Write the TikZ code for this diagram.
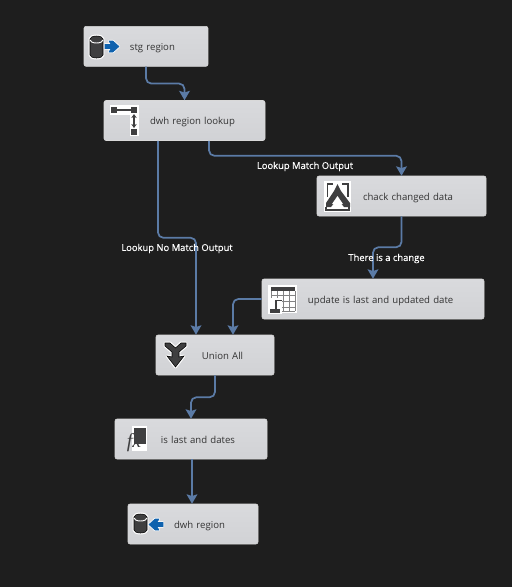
\documentclass[tikz,border=0pt]{standalone}
\usepackage{fontspec}
\setmainfont{Open Sans}
\newfontfamily\labelfont[FakeBold=0.25]{Open Sans}
\newfontfamily\fxfont{Liberation Serif}
\usetikzlibrary{arrows.meta, calc}
\definecolor{canvas}{HTML}{1E1E1E}
\definecolor{flowblue}{HTML}{5B7BA6}
\definecolor{boxtop}{HTML}{D9DADD}
\definecolor{boxbottom}{HTML}{D1D2D5}
\definecolor{icondark}{HTML}{3F3F40}
\definecolor{arrowblue}{HTML}{0F62AE}

\begin{document}
\begin{tikzpicture}[
  x=0.75pt, y=-0.75pt,
  opbox/.style={rectangle, draw=white!70!gray, line width=0.4pt, top color=boxtop, bottom color=boxbottom, rounded corners=1.5pt, text width=#1*0.75pt,
    minimum height=30pt, inner xsep=0pt, inner ysep=0pt, align=left, font=\fontsize{7.2}{8}\selectfont, text=black!80,
    text height=7.5pt, text depth=1pt, execute at begin node={\hspace*{34.5pt}}},
  flow/.style={draw=flowblue, line width=1.3pt, rounded corners=4pt, -{Stealth[length=7pt, width=8pt, inset=1.2pt]}},
  flowlabel/.style={font=\fontsize{7.05}{8}\labelfont, text=white, inner sep=0pt},
  halo/.style={fill=icondark, preaction={draw=white, line width=2.2pt, line join=round}},
  ink/.style={fill=icondark, draw=none},
  rule/.style={draw=icondark, line width=1pt},
  gridline/.style={draw=icondark!65, line width=0.5pt}
]

\fill[canvas] (0,0) rectangle (512,587);
\useasboundingbox (0,0) rectangle (512,587);

% Components
\node[opbox=124] (stg) at (146,46.3) {stg region};
\node[opbox=161] (lookup) at (184.5,120.5) {dwh region lookup};
\node[opbox=169] (chack) at (401.5,196) {chack changed data};
\node[opbox=222] (update) at (373,299) {update is last and updated date};
\node[opbox=118] (union) at (215,355) {Union All};
\node[opbox=152] (islast) at (191,439) {is last and dates};
\node[opbox=130] (dwh) at (193,524) {dwh region};

% Connectors
\draw[flow] (stg.south) -- ++(0,17) -| (lookup.north);
\draw[flow] ([xshift=-19.9pt]lookup.south) -- ++(0,97) -| ([xshift=-14.25pt]union.north);
\draw[flow] ([xshift=18.4pt]lookup.south) -- ++(0,15) -| (chack.north);
\draw[flow] (chack.south) -- ++(0,31) -| (update.north);
\draw[flow] (update.west) -| ([xshift=13.5pt]union.north);
\draw[flow] (union.south) -- ++(0,22) -| (islast.north);
\draw[flow] ([xshift=0.75pt]islast.south) -- ([xshift=0.75pt]islast.south |- dwh.north);

% Connector labels
\node[flowlabel] (matchlabel) at (305,166.5) {Lookup Match Output};
\node[flowlabel] (nomatchlabel) at (177,248.5) {Lookup No Match Output};
\node[flowlabel] (changelabel) at (386.5,258.5) {There is a change};

% Icon: source
\draw[halo] (90,39) -- (90,55) arc[start angle=180, end angle=0, x radius=6.5, y radius=3] -- (103,39) arc[start angle=0, end angle=-180, x radius=6.5, y radius=3] -- cycle;
\draw[white, line width=0.7pt] (90,40) arc[start angle=180, end angle=0, x radius=6.5, y radius=3];
\draw[arrowblue, fill=arrowblue, preaction={draw=white, line width=1.6pt, line join=round}] (105,44.5) -- (111,44.5) -- (109,41) -- (113,41) -- (119,46.5) -- (113,52) -- (109,52) -- (111,48.5) -- (105,48.5) -- cycle;

% Icon: lookup
\fill[white] (110,105) rectangle (139,115);
\fill[white] (130,105) rectangle (139,136);
\fill[ink] (111,107) rectangle (117,113);
\fill[ink] (131,107) rectangle (137,113);
\fill[ink] (131,129) rectangle (137,135);
\draw[rule] (117,110) -- (131,110);
\draw[rule, {Stealth[length=3pt, width=4pt]}-{Stealth[length=3pt, width=4pt]}] (134,114) -- (134,128);

% Icon: split
\fill[white] (324,181) rectangle (351,212);
\draw[icondark, line width=1.2pt] (333,184) -- (327.5,184) -- (327.5,197);
\draw[icondark, line width=1.2pt] (342,184) -- (348,184) -- (348,197);
\fill[ink] (337.5,184) -- (341,191) -- (350,203) -- (350,207) -- (344,207) -- (337.5,199) -- (331,207) -- (326,207) -- (326,203) -- (334,191) -- cycle;
\fill[white] (337.5,196) -- (343,204) -- (340,204) -- (340,207) -- (335,207) -- (335,204) -- (332,204) -- cycle;
\draw[icondark, line width=0.8pt] (326,207) -- (326,210) -- (349,210) -- (349,207);

% Icon: table
\fill[white] (268,285) rectangle (297,313);
\fill[ink] (271,287) rectangle (295,291);
\foreach \x in {271, 277, 283, 289, 295} {
  \draw[gridline] (\x,291) -- (\x,311);
}
\foreach \y in {295, 301, 307, 311} {
  \draw[gridline] (271,\y) -- (295,\y);
}
\fill[white] (268,298) rectangle (282,314);
\draw[icondark, line width=1pt] (282,300.5) -- (276,300.5) -- (276,310);
\fill[ink] (270,309) rectangle (280,313);

% Icon: union
\draw[halo] (165,343) -- (170,343) -- (175.5,348) -- (181,343) -- (186,343) -- (186,346) -- (179,352) -- (179,357) -- (184,356) -- (175.5,367) -- (167,356) -- (172,357) -- (172,352) -- (165,346) -- cycle;

% Icon: derived column
\fill[white] (132,426) rectangle (147,451);
\fill[ink] (134,428) rectangle (146,444);
\node[font=\fontsize{15}{15}\fxfont\itshape, text=icondark, inner sep=0pt] (fxmark) at (134,443) {fx};

% Icon: destination
\draw[halo] (134,517) -- (134,530) arc[start angle=180, end angle=0, x radius=6.5, y radius=3] -- (147,517) arc[start angle=0, end angle=-180, x radius=6.5, y radius=3] -- cycle;
\draw[white, line width=0.7pt] (134,518) arc[start angle=180, end angle=0, x radius=6.5, y radius=3];
\draw[arrowblue, fill=arrowblue, preaction={draw=white, line width=1.6pt, line join=round}] (163,522.5) -- (157,522.5) -- (159,519) -- (155,519) -- (149,524.5) -- (155,530) -- (159,530) -- (157,526.5) -- (163,526.5) -- cycle;

\end{tikzpicture}
\end{document}
